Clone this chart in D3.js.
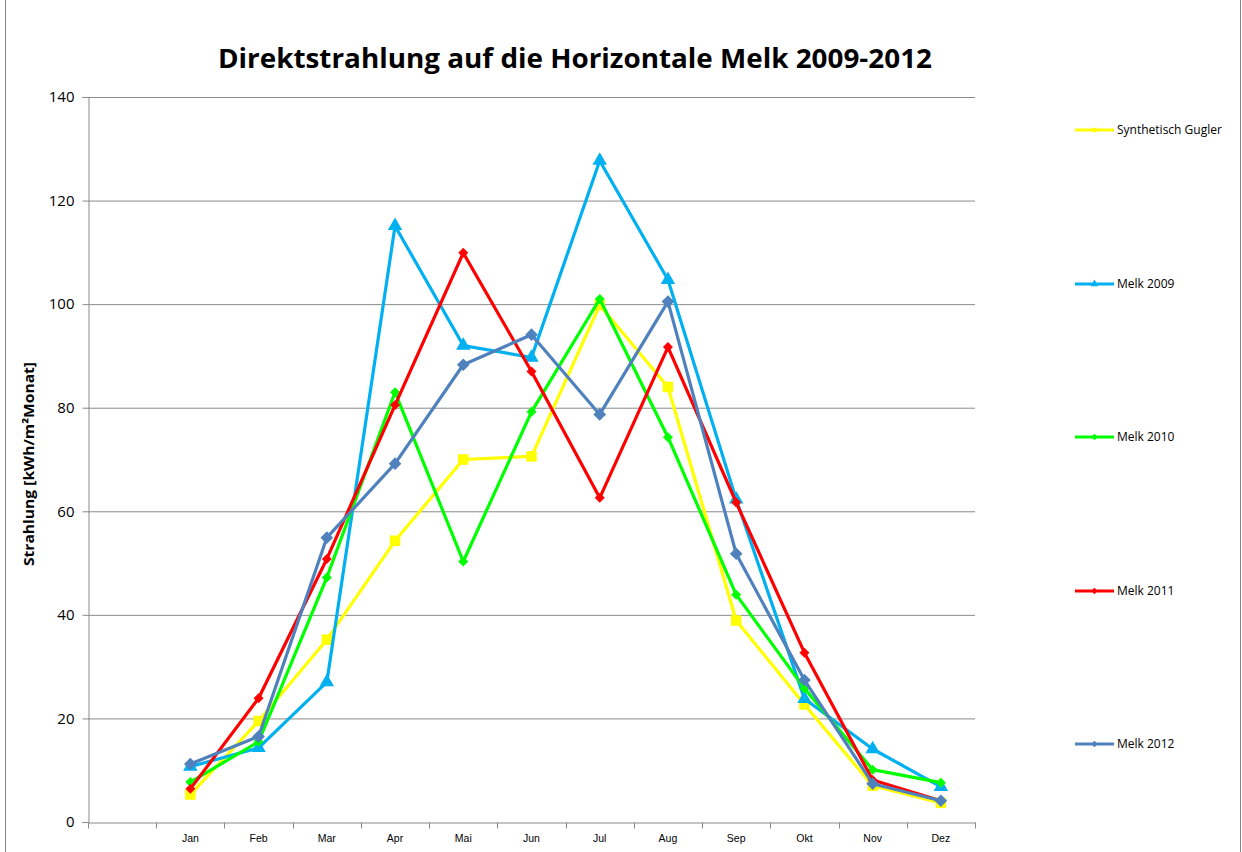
<!DOCTYPE html>
<html>
<head>
<meta charset="utf-8">
<script src="https://cdn.jsdelivr.net/npm/d3@7/dist/d3.min.js"></script>
<style>
  body { margin: 0; background: #fff; }
  svg { font-family: "Open Sans", "Noto Sans", sans-serif; }
</style>
</head>
<body>
<div id="chart"></div>
<script>
// categories (first band is empty in the original chart)
const months = ["", "Jan", "Feb", "Mar", "Apr", "Mai", "Jun", "Jul", "Aug", "Sep", "Okt", "Nov", "Dez"];
const yTicks = [0, 20, 40, 60, 80, 100, 120, 140];

// series values, Jan..Dez
const gugler = [5.3, 19.5, 35.2, 54.3, 70.0, 70.6, 99.8, 84.0, 38.9, 22.7, 7.0, 3.7];
const melk2009 = [10.7, 14.3, 27.0, 115.1, 92.0, 89.7, 127.7, 104.7, 62.3, 23.8, 14.1, 6.8];
const melk2010 = [7.7, 15.5, 47.2, 83.0, 50.3, 79.2, 101.0, 74.3, 43.9, 25.8, 10.1, 7.6];
const melk2011 = [6.4, 23.9, 50.8, 80.5, 109.9, 87.0, 62.6, 91.7, 61.7, 32.7, 8.1, 4.1];
const melk2012 = [11.2, 16.5, 54.9, 69.2, 88.3, 94.1, 78.7, 100.5, 51.8, 27.4, 7.4, 4.1];

const series = [
    { name: "Synthetisch Gugler", values: gugler, color: "#FFFF00", marker: "square", size: 110 },
    { name: "Melk 2009", values: melk2009, color: "#00B0F0", marker: "triangle", size: 90 },
    { name: "Melk 2010", values: melk2010, color: "#00FF00", marker: "diamond", size: 50 },
    { name: "Melk 2011", values: melk2011, color: "#FF0000", marker: "diamond", size: 50 },
    { name: "Melk 2012", values: melk2012, color: "#4F81BD", marker: "diamond", size: 80 }
];

const W = 1242, H = 852;
const margin = { top: 97, right: 267, bottom: 30, left: 88 },
    width = W - margin.left - margin.right,
    height = H - margin.top - margin.bottom;

const svg = d3.select("#chart")
    .append("svg")
    .attr("width", W)
    .attr("height", H);

// outer chart border
svg.append("rect")
    .attr("x", 5.5).attr("y", -2)
    .attr("width", W - 7).attr("height", H + 4)
    .attr("fill", "none")
    .attr("stroke", "#868686")
    .attr("stroke-width", 1);

svg.append("text")
    .attr("x", 575).attr("y", 68)
    .attr("text-anchor", "middle")
    .attr("font-size", 26)
    .attr("font-weight", "bold")
    .attr("textLength", 714)
    .attr("lengthAdjust", "spacingAndGlyphs")
    .text("Direktstrahlung auf die Horizontale Melk 2009-2012");

const g = svg.append("g")
    .attr("transform", `translate(${margin.left},${margin.top})`);

const x = d3.scaleBand()
    .domain(months)
    .range([0, width]);

const y = d3.scaleLinear()
    .domain([0, 140])
    .range([height, 0]);

// gridlines
g.append("g")
    .selectAll("line")
    .data(yTicks.filter(d => d > 0))
    .join("line")
    .attr("x1", 0).attr("x2", width)
    .attr("y1", d => y(d) + 0.5).attr("y2", d => y(d) + 0.5)
    .attr("stroke", "#8a8a8a")
    .attr("stroke-width", 1);

// y axis
const yAxis = g.append("g")
    .attr("transform", "translate(0.5,0)")
    .call(d3.axisLeft(y).tickValues(yTicks).tickSize(6).tickPadding(8));
yAxis.selectAll("text").attr("font-size", 15).attr("fill", "#000")
    .attr("font-family", "Open Sans");
yAxis.selectAll("line, path").attr("stroke", "#8a8a8a");

// x axis, ticks between categories
const xAxis = g.append("g")
    .attr("transform", `translate(0,${height + 0.5})`)
    .call(d3.axisBottom(x).tickSize(0).tickPadding(12));
xAxis.selectAll("text").attr("font-size", 10.5).attr("fill", "#000");
xAxis.select("path").attr("stroke", "#8a8a8a");
xAxis.selectAll(".tick line").remove();
xAxis.append("g")
    .selectAll("line")
    .data(months.concat(["end"]))
    .join("line")
    .attr("x1", (d, i) => Math.round(i * x.step()) + 0.5)
    .attr("x2", (d, i) => Math.round(i * x.step()) + 0.5)
    .attr("y1", 0).attr("y2", 6)
    .attr("stroke", "#8a8a8a");

// y axis title
svg.append("text")
    .attr("transform", "translate(34,464) rotate(-90)")
    .attr("text-anchor", "middle")
    .attr("font-size", 14)
    .attr("font-weight", "bold")
    .attr("textLength", 204)
    .attr("lengthAdjust", "spacingAndGlyphs")
    .text("Strahlung [kWh/m²Monat]");

// diamonds are drawn as squares turned by 45 degrees
const symbolType = {
    square: d3.symbolSquare,
    triangle: d3.symbolTriangle,
    diamond: d3.symbolSquare
};
const turn = m => m === "diamond" ? " rotate(45)" : "";

const xc = i => x(months[i + 1]) + x.bandwidth() / 2;

const line = d3.line()
    .x((d, i) => xc(i))
    .y(d => y(d));

series.forEach(s => {
    g.append("path")
        .datum(s.values)
        .attr("fill", "none")
        .attr("stroke", s.color)
        .attr("stroke-width", 3.2)
        .attr("stroke-linejoin", "round")
        .attr("d", line);

    g.append("g")
        .selectAll("path")
        .data(s.values)
        .join("path")
        .attr("transform", (d, i) => `translate(${xc(i)},${y(d)})` + turn(s.marker))
        .attr("d", d3.symbol().type(symbolType[s.marker]).size(s.size))
        .attr("fill", s.color);
});

// legend
const legendY = [130, 284, 437, 591, 744];
const legend = svg.append("g");
series.forEach((s, i) => {
    const ly = legendY[i];
    legend.append("line")
        .attr("x1", 1075).attr("x2", 1114)
        .attr("y1", ly).attr("y2", ly)
        .attr("stroke", s.color)
        .attr("stroke-width", 3);
    legend.append("path")
        .attr("transform", `translate(1094.5,${ly})` + turn(s.marker))
        .attr("d", d3.symbol().type(symbolType[s.marker]).size(s.marker === "triangle" ? 25 : 20))
        .attr("fill", s.color);
    legend.append("text")
        .attr("x", 1117).attr("y", ly + 4)
        .attr("font-size", 12)
        .text(s.name);
});
</script>
</body>
</html>
